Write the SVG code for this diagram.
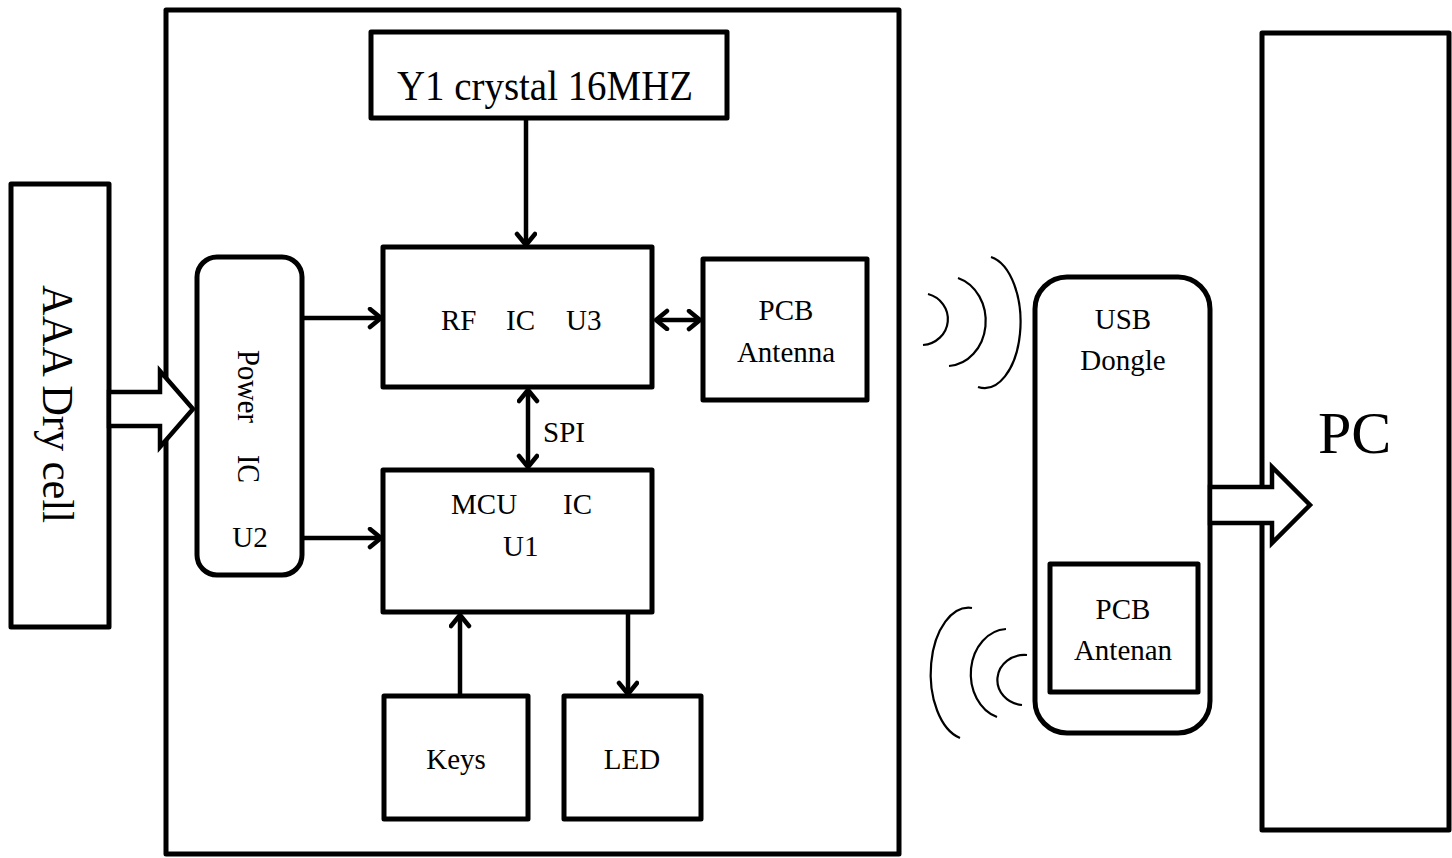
<svg xmlns="http://www.w3.org/2000/svg" width="1452" height="858" viewBox="0 0 1452 858">
<style>
.box{fill:#fff;stroke:#000;stroke-width:5;stroke-linejoin:round}
.t{font-family:"Liberation Serif","Times New Roman",serif;fill:#000;font-size:29px}
.con{fill:none;stroke:#000;stroke-width:4.5}
.wave{fill:none;stroke:#000;stroke-width:2.2}
.blk{fill:#fff;stroke:#000;stroke-width:4.5;stroke-linejoin:miter}
</style>
<defs>
<marker id="ah" markerUnits="userSpaceOnUse" markerWidth="30" markerHeight="30" refX="14" refY="11" orient="auto-start-reverse">
<path d="M3,2 L14,11 L3,20" fill="none" stroke="#000" stroke-width="4.5" stroke-linecap="round" stroke-linejoin="round"/>
</marker>
</defs>
<rect width="1452" height="858" fill="#fff"/>

<g id="board"><rect class="box" x="166" y="10" width="733" height="844"/></g>

<g id="aaa"><rect class="box" x="11" y="184" width="98" height="443"/>
<text class="t" transform="translate(43,285) rotate(90)" style="font-size:45px" textLength="238" lengthAdjust="spacingAndGlyphs">AAA Dry cell</text></g>

<g id="power"><rect class="box" x="197" y="257" width="105" height="318" rx="20"/>
<text class="t" transform="translate(238,350) rotate(90)" style="font-size:32px" textLength="73" lengthAdjust="spacingAndGlyphs">Power</text>
<text class="t" transform="translate(238,455) rotate(90)" style="font-size:32px" textLength="28" lengthAdjust="spacingAndGlyphs">IC</text>
<text class="t" x="250" y="547" text-anchor="middle">U2</text></g>

<g id="crystal"><rect class="box" x="371" y="32" width="356" height="86"/>
<text class="t" x="397" y="100" style="font-size:43px" textLength="296" lengthAdjust="spacingAndGlyphs">Y1 crystal 16MHZ</text></g>

<g id="rf"><rect class="box" x="383" y="247" width="269" height="140"/>
<text class="t" x="441" y="330">RF</text><text class="t" x="506" y="330">IC</text><text class="t" x="566" y="330">U3</text></g>

<g id="pcbant"><rect class="box" x="703" y="259" width="164" height="141"/>
<text class="t" x="786" y="320" text-anchor="middle">PCB</text>
<text class="t" x="786" y="362" text-anchor="middle">Antenna</text></g>

<g id="mcu"><rect class="box" x="383" y="470" width="269" height="142"/>
<text class="t" x="451" y="514">MCU</text><text class="t" x="563" y="514">IC</text>
<text class="t" x="503" y="556">U1</text></g>

<g id="keys"><rect class="box" x="384" y="696" width="144" height="123"/>
<text class="t" x="456" y="769" text-anchor="middle">Keys</text></g>

<g id="led"><rect class="box" x="564" y="696" width="137" height="123"/>
<text class="t" x="632" y="769" text-anchor="middle">LED</text></g>

<g id="dongle"><rect class="box" x="1035" y="277" width="175" height="456" rx="32"/>
<text class="t" x="1123" y="329" text-anchor="middle">USB</text>
<text class="t" x="1123" y="370" text-anchor="middle">Dongle</text></g>

<g id="dongleant"><rect class="box" x="1050" y="564" width="148" height="128"/>
<text class="t" x="1123" y="619" text-anchor="middle">PCB</text>
<text class="t" x="1123" y="660" text-anchor="middle">Antenan</text></g>

<g id="pc"><rect class="box" x="1262" y="33" width="187" height="797"/>
<text class="t" x="1318" y="453" style="font-size:60px">PC</text></g>

<g id="connectors">
<path class="con" d="M526,118 L526,245" marker-end="url(#ah)"/>
<path class="con" d="M302,318 L381,318" marker-end="url(#ah)"/>
<path class="con" d="M302,538 L381,538" marker-end="url(#ah)"/>
<path class="con" d="M656,320 L700,320" marker-start="url(#ah)" marker-end="url(#ah)"/>
<path class="con" d="M528,390 L528,467" marker-start="url(#ah)" marker-end="url(#ah)"/>
<path class="con" d="M460,696 L460,615" marker-end="url(#ah)"/>
<path class="con" d="M628,613 L628,694" marker-end="url(#ah)"/>
<text class="t" x="543" y="442">SPI</text>
<polygon class="blk" points="109,392 160,392 160,371 193,409 160,447 160,426 109,426"/>
<polygon class="blk" points="1210,487 1272,487 1272,467 1310,505 1272,543 1272,523 1210,523"/>
<path class="wave" d="M928,294 A27,26 0 0 1 923,345"/>
<path class="wave" d="M958,278 A39,45 0 0 1 949,366"/>
<path class="wave" d="M991,257 A36,66 0 0 1 978,387"/>
<path class="wave" d="M972,608 A38,66 0 0 0 960,738"/>
<path class="wave" d="M1006,629 A37,45 0 0 0 997,717"/>
<path class="wave" d="M1027,655 A27,25 0 0 0 1022,705"/>
</g>
</svg>
